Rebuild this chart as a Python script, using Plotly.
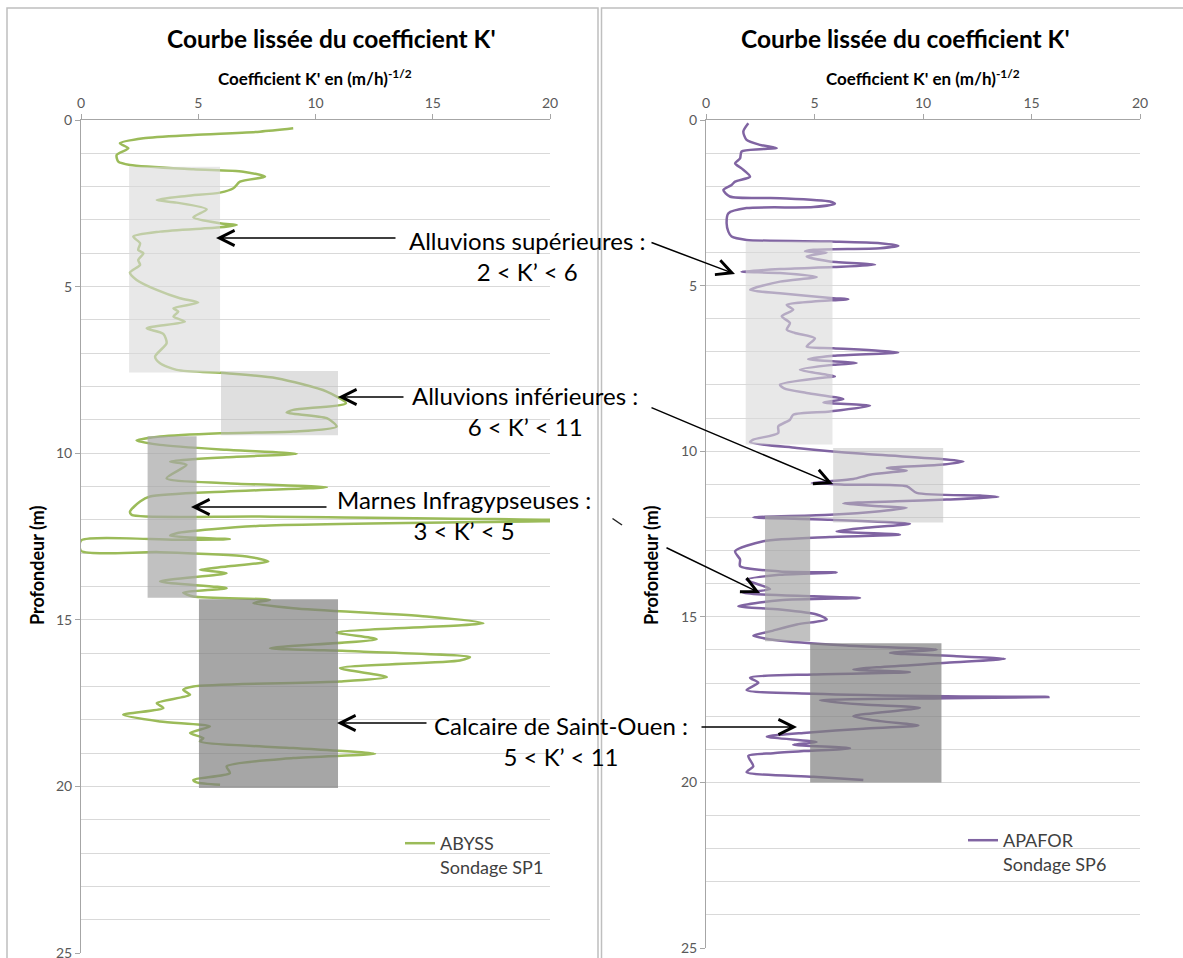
import plotly.graph_objects as go

W, H = 1183, 958

# ---------------- Data: ABYSS, sondage SP1 (left) ----------------
abyss_depth = [0.25, 0.35, 0.45, 0.55, 0.7, 0.85, 1.05, 1.25, 1.35, 1.48, 1.55, 1.7, 1.85, 2.05, 2.18,
               2.28, 2.4, 2.48, 2.68, 2.92, 3.1, 3.15, 3.22, 3.35, 3.5, 3.7, 3.9, 4.0, 4.2, 4.35,
               4.58, 4.8, 5.1, 5.35, 5.48, 5.65, 5.75, 5.9, 6.05, 6.25, 6.42, 6.7, 7.1, 7.3, 7.5,
               7.6, 7.75, 8.15, 8.5, 8.7, 8.78, 8.95, 9.2, 9.35, 9.4, 9.5, 9.62, 9.75, 9.9, 10.02,
               10.12, 10.25, 10.35, 10.75, 10.9, 11.02, 11.15, 11.3, 11.45, 11.75, 11.85, 11.9, 12.02, 12.18, 12.4,
               12.48, 12.58, 12.6, 12.62, 12.93, 12.97, 13.1, 13.25, 13.4, 13.5, 13.6, 13.85, 14.05, 14.18,
               14.3, 14.4, 14.5, 14.65, 14.9, 15.1, 15.38, 15.58, 15.85, 15.95, 16.12, 16.22, 16.45, 16.72,
               16.85, 17.0, 17.1, 17.25, 17.5, 17.65, 17.85, 18.05, 18.2, 18.4, 18.55, 18.65, 18.85, 19.02,
               19.15, 19.4, 19.6, 19.8, 19.88, 19.95]
abyss_k = [9.05, 7.63, 4.79, 2.66, 1.66, 2.02, 1.52, 1.59, 2.09, 4.79, 6.92, 7.85, 6.78, 6.5, 5.93,
           4.5, 3.23, 4.08, 5.36, 4.79, 5.93, 6.64, 5.93, 3.37, 2.23, 2.52, 2.44, 2.66, 2.44, 2.52,
           2.09, 2.37, 3.23, 4.22, 5.0, 3.94, 4.15, 3.94, 4.43, 2.8, 3.51, 3.65, 3.16, 3.37, 4.08,
           6.21, 8.34, 10.48, 11.3, 9.05, 8.77, 10.48, 10.9, 9.05, 5.93, 3.37, 2.37, 3.37, 6.21, 9.2,
           6.21, 3.8, 4.5, 3.65, 6.21, 10.48, 6.21, 2.94, 2.52, 2.09, 2.16, 7.63, 21.0, 7.63, 4.08,
           3.8, 6.35, 4.08, 0.0, 0.0, 3.37, 7.07, 7.99, 6.21, 5.07, 6.21, 3.37, 6.21, 4.36,
           4.79, 8.06, 7.35, 9.05, 14.74, 17.16, 10.9, 12.61, 8.06, 11.9, 16.59, 16.16, 11.04, 13.04,
           11.04, 4.79, 4.36, 4.65, 3.23, 3.51, 1.8, 3.37, 5.5, 4.65, 5.22, 5.07, 9.05, 12.54,
           9.05, 6.21, 6.35, 4.79, 4.93, 5.93]

# ---------------- Data: APAFOR, sondage SP6 (right) ----------------
apafor_depth = [0.1, 0.35, 0.6, 0.75, 0.85, 0.88, 0.95, 1.16, 1.31, 1.46, 1.71, 1.86, 1.96, 2.11, 2.31,
                2.36, 2.46, 2.53, 2.63, 2.66, 2.82, 3.12, 3.37, 3.52, 3.62, 3.67, 3.72, 3.8, 3.87, 3.92,
                3.97, 4.0, 4.12, 4.27, 4.37, 4.44, 4.5, 4.58, 4.62, 4.74, 4.88, 5.13, 5.23, 5.38, 5.41,
                5.48, 5.58, 5.73, 5.93, 6.13, 6.33, 6.43, 6.59, 6.84, 6.89, 7.02, 7.12, 7.22, 7.34, 7.39,
                7.54, 7.69, 7.74, 7.79, 7.99, 8.1, 8.24, 8.43, 8.53, 8.63, 8.8, 8.9, 9.05, 9.25, 9.45,
                9.65, 9.73, 9.9, 10.08, 10.24, 10.31, 10.41, 10.51, 10.58, 10.71, 10.84, 10.91, 10.96, 11.01, 11.06,
                11.26, 11.34, 11.38, 11.46, 11.51, 11.58, 11.66, 11.71, 11.81, 11.92, 12.0, 12.07, 12.19, 12.32, 12.42,
                12.52, 12.59, 12.72, 13.02, 13.27, 13.47, 13.63, 13.66, 13.73, 13.88, 14.16, 14.28, 14.38, 14.43, 14.5,
                14.68, 14.78, 14.93, 15.08, 15.23, 15.44, 15.57, 15.71, 15.87, 15.99, 16.09, 16.19, 16.27, 16.39, 16.59,
                16.67, 16.74, 16.84, 16.99, 17.21, 17.32, 17.4, 17.42, 17.46, 17.52, 17.65, 17.75, 18.0, 18.15, 18.28,
                18.38, 18.5, 18.62, 18.78, 18.86, 18.97, 19.05, 19.12, 19.2, 19.51, 19.69, 19.83, 19.93]
apafor_k = [1.95, 1.72, 1.87, 2.49, 3.26, 2.49, 1.64, 1.57, 1.34, 1.64, 2.03, 1.34, 1.18, 0.8, 1.1,
            3.41, 5.71, 5.94, 4.95, 1.87, 1.03, 0.95, 1.03, 1.18, 1.87, 5.71, 8.02, 8.86, 8.02, 4.95,
            4.56, 5.56, 4.64, 5.71, 7.79, 5.87, 3.41, 1.64, 3.41, 5.1, 3.41, 2.03, 3.41, 5.87, 6.56,
            4.95, 3.72, 4.02, 3.49, 3.87, 3.72, 4.1, 5.02, 4.64, 5.87, 8.86, 5.87, 4.71, 6.94, 5.87,
            4.33, 5.56, 5.94, 5.25, 3.41, 3.6, 4.64, 6.33, 5.41, 7.56, 5.71, 4.02, 3.87, 3.33, 3.33,
            2.18, 2.03, 4.18, 7.25, 10.94, 11.86, 10.78, 8.33, 9.25, 7.56, 6.79, 5.71, 4.87, 6.48, 9.25,
            9.71, 12.63, 13.47, 11.09, 8.79, 6.33, 8.02, 9.25, 8.02, 5.71, 2.18, 5.71, 9.4, 7.25, 6.02,
            8.94, 5.71, 2.64, 1.34, 1.57, 1.57, 3.41, 6.02, 3.41, 1.87, 2.95, 1.72, 4.95, 7.1, 3.41,
            1.49, 3.41, 5.1, 5.56, 4.18, 2.95, 2.18, 3.26, 6.48, 10.63, 8.48, 11.55, 13.78, 11.09, 6.79,
            9.4, 4.95, 2.03, 2.41, 1.87, 4.95, 11.09, 15.78, 11.09, 5.25, 7.25, 9.86, 6.79, 8.02, 9.79,
            7.25, 4.64, 2.8, 5.1, 4.02, 6.64, 4.64, 3.1, 1.95, 2.18, 1.87, 4.95, 7.25]

# ---------------- Layer zones (K' ranges and depth ranges) ----------------
zone_labels = ["Alluvions supérieures :<br>2 < K’ < 6",
               "Alluvions inférieures :<br>6 < K’ < 11",
               "Marnes Infragypseuses :<br>3 < K’ < 5",
               "Calcaire de Saint-Ouen :<br>5 < K’ < 11"]
abyss_zone_kmin = [2.05, 5.97, 2.84, 5.03]
abyss_zone_kmax = [5.93, 10.96, 4.93, 10.96]
abyss_zone_top = [1.4, 7.53, 9.49, 14.38]
abyss_zone_bot = [7.58, 9.46, 14.34, 20.05]
apafor_zone_kmin = [1.83, 5.86, 2.72, 4.8]
apafor_zone_kmax = [5.83, 10.93, 4.8, 10.85]
apafor_zone_top = [3.67, 9.9, 11.95, 15.8]
apafor_zone_bot = [9.8, 12.15, 15.74, 20.0]
zone_fill = ["#d9d9d9", "#bfbfbf", "#a6a6a6", "#808080"]
zone_opacity = [0.6, 0.5, 0.7, 0.7]

x_ticks = [0, 5, 10, 15, 20]

GREEN = "#9bbb59"
PURPLE = "#8064a2"
FONT = "Lato, Carlito, Calibri, sans-serif"


def px(x):
    return x / W


def py(y):
    return 1 - y / H


fig = go.Figure()
fig.add_trace(go.Scatter(x=abyss_k, y=abyss_depth, mode="lines", name="ABYSS<br>Sondage SP1",
                         line=dict(color=GREEN, width=2.5, shape="spline", smoothing=0.7),
                         xaxis="x", yaxis="y", legend="legend"))
fig.add_trace(go.Scatter(x=apafor_k, y=apafor_depth, mode="lines", name="APAFOR<br>Sondage SP6",
                         line=dict(color=PURPLE, width=2.5, shape="spline", smoothing=0.7),
                         xaxis="x2", yaxis="y2", legend="legend2"))

shapes = []
for i in range(4):
    shapes.append(dict(type="rect", xref="x", yref="y", x0=abyss_zone_kmin[i], x1=abyss_zone_kmax[i],
                       y0=abyss_zone_top[i], y1=abyss_zone_bot[i], fillcolor=zone_fill[i],
                       opacity=zone_opacity[i], line=dict(width=0), layer="above"))
    shapes.append(dict(type="rect", xref="x2", yref="y2", x0=apafor_zone_kmin[i], x1=apafor_zone_kmax[i],
                       y0=apafor_zone_top[i], y1=apafor_zone_bot[i], fillcolor=zone_fill[i],
                       opacity=zone_opacity[i], line=dict(width=0), layer="above"))

# panel borders
shapes.append(dict(type="rect", xref="paper", yref="paper", x0=px(7), x1=px(598), y0=py(1000), y1=py(8),
                   line=dict(color="#bfbfbf", width=1.5), fillcolor="rgba(0,0,0,0)", layer="below"))
shapes.append(dict(type="rect", xref="paper", yref="paper", x0=px(601.5), x1=px(1200), y0=py(1000), y1=py(8),
                   line=dict(color="#bfbfbf", width=1.5), fillcolor="rgba(0,0,0,0)", layer="below"))
# stray small stroke
shapes.append(dict(type="line", xref="paper", yref="paper", x0=px(612.5), y0=py(518.5), x1=px(622), y1=py(525),
                   line=dict(color="#222222", width=1.5)))

annotations = []
# titles
for cx in (331, 905):
    annotations.append(dict(text="<b>Courbe lissée du coefficient K'</b>", x=px(cx), y=py(38), xref="paper",
                            yref="paper", showarrow=False, xanchor="center", yanchor="middle",
                            font=dict(size=24.5, color="#000000", family=FONT)))
for cx in (315, 923):
    annotations.append(dict(text="<b>Coefficient K' en (m/h)<sup>-1/2</sup></b>", x=px(cx), y=py(77),
                            xref="paper", yref="paper", showarrow=False, xanchor="center", yanchor="middle",
                            font=dict(size=17, color="#000000", family=FONT)))
for cx in (37, 651):
    annotations.append(dict(text="<b>Profondeur (m)</b>", x=px(cx), y=py(565), xref="paper", yref="paper",
                            showarrow=False, textangle=-90, xanchor="center", yanchor="middle",
                            font=dict(size=18, color="#000000", family=FONT)))

# zone labels
label_pos = [(527, 256), (525, 411), (464, 515), (561, 741)]
for t, (lx, ly) in zip(zone_labels, label_pos):
    annotations.append(dict(text=t, x=px(lx), y=py(ly), xref="paper", yref="paper", showarrow=False,
                            align="center", xanchor="center", yanchor="middle",
                            font=dict(size=24, color="#000000", family=FONT)))

# arrows: (tail_x, tail_y, tip_x, tip_y) in pixels
arrows = [(397, 238, 216, 238), (405, 397, 338, 397), (328, 507, 191, 507), (428, 723, 337, 723),
          (650, 242, 735, 274), (650, 407, 833, 484), (665, 547, 760, 593), (700, 727, 797, 727)]
for tx, ty, hx, hy in arrows:
    annotations.append(dict(text="", x=px(hx), y=py(hy), xref="paper", yref="paper", showarrow=True,
                            ax=tx - hx, ay=ty - hy, axref="pixel", ayref="pixel",
                            arrowhead=5, arrowsize=2.0, arrowwidth=1.5, arrowcolor="#000000"))

axis_common = dict(range=[0, 20], side="top", tickvals=x_ticks, ticks="outside", ticklen=5,
                   tickcolor="#a6a6a6", showline=True, linecolor="#a6a6a6", linewidth=1,
                   showgrid=False, zeroline=False, automargin=False,
                   tickfont=dict(size=14, color="#595959", family=FONT))
yaxis_common = dict(range=[25, 0], tickvals=[0, 5, 10, 15, 20, 25], ticks="outside", ticklen=5,
                    tickcolor="#a6a6a6", showline=True, linecolor="#a6a6a6", linewidth=1,
                    showgrid=True, gridcolor="#d9d9d9", gridwidth=1, zeroline=False, automargin=False,
                    ticklabeloverflow="allow",
                    minor=dict(dtick=1, showgrid=True, gridcolor="#d9d9d9", gridwidth=1, ticks=""),
                    tickfont=dict(size=14, color="#595959", family=FONT))

fig.update_layout(
    width=W, height=H, margin=dict(l=0, r=0, t=0, b=0, pad=0, autoexpand=False),
    paper_bgcolor="white", plot_bgcolor="white",
    font=dict(family=FONT, color="#000000"),
    xaxis=dict(domain=[px(81), px(550)], anchor="y", **axis_common),
    yaxis=dict(domain=[py(953), py(120)], anchor="x", **yaxis_common),
    xaxis2=dict(domain=[px(706), px(1140)], anchor="y2", **axis_common),
    yaxis2=dict(domain=[py(948), py(120)], anchor="x2", **yaxis_common),
    shapes=shapes, annotations=annotations,
    legend=dict(x=px(400), y=py(825), xanchor="left", yanchor="top", bgcolor="rgba(0,0,0,0)",
                font=dict(size=18, color="#404040", family=FONT), valign="top", itemwidth=30),
    legend2=dict(x=px(963), y=py(822), xanchor="left", yanchor="top", bgcolor="rgba(0,0,0,0)",
                 font=dict(size=18, color="#404040", family=FONT), valign="top", itemwidth=30),
    showlegend=True,
)

fig.write_html("out.html", config={"displayModeBar": False},
               post_script="document.body.style.margin='0';document.body.style.overflow='hidden';")
